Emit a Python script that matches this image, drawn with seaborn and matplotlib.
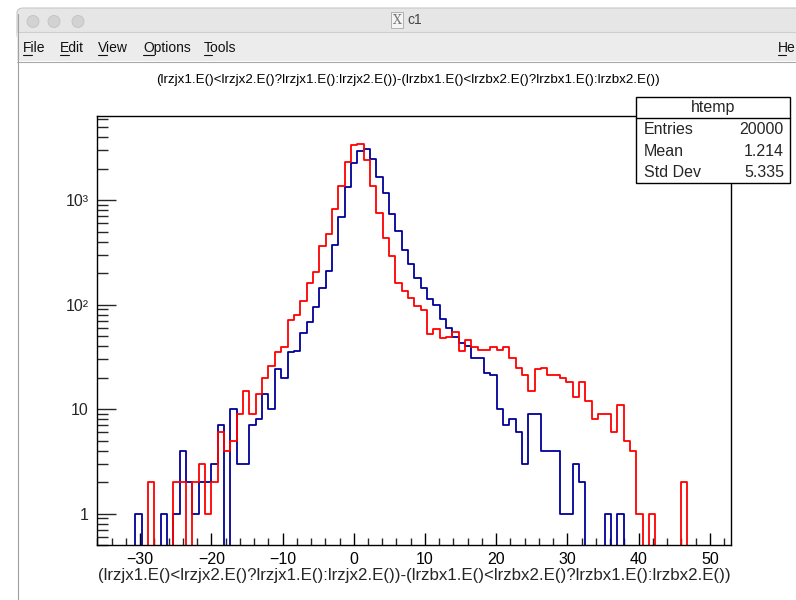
import numpy as np
import pandas as pd
import matplotlib
matplotlib.use("Agg")
import matplotlib.pyplot as plt
import seaborn as sns
from matplotlib.patches import Rectangle, Ellipse, FancyBboxPatch
from matplotlib.lines import Line2D
from matplotlib.ticker import LogLocator, NullFormatter, FixedLocator, MultipleLocator

# ---------------- data ----------------
x_min, x_max, n_bins = -36.0, 53.0, 100

# counts per bin (bin 0 .. 99)
blue_counts = [0, 0, 0, 0, 0, 0, 1, 0, 0, 0,
               1, 0, 1, 4, 2, 1, 2, 2, 3, 7,
               0, 10, 3, 3, 7, 8, 14, 10, 24, 20,
               35, 36, 53, 68, 94, 144, 209, 374, 693, 1327,
               2250, 2970, 3105, 2494, 1675, 1162, 736, 506, 330, 244,
               181, 145, 112, 99, 73, 60, 49, 43, 40, 31,
               31, 22, 21, 10, 7, 8, 6, 3, 9, 9,
               4, 4, 4, 1, 1, 3, 2, 0, 0, 0,
               1, 0, 1, 0, 0, 0, 0, 0, 0, 0,
               0, 0, 0, 0, 0, 0, 0, 0, 0, 0]

red_counts = [0, 0, 0, 0, 0, 0, 0, 0, 2, 0,
              0, 0, 2, 2, 0, 2, 3, 1, 2, 6,
              4, 5, 9, 15, 9, 14, 20, 26, 35, 39,
              71, 79, 109, 160, 205, 363, 476, 827, 1365, 2318,
              3350, 3445, 2421, 1365, 757, 434, 292, 160, 134, 115,
              97, 88, 52, 59, 48, 49, 55, 36, 46, 39,
              37, 37, 39, 37, 39, 31, 25, 21, 15, 24,
              25, 21, 21, 20, 18, 13, 18, 12, 8, 9,
              9, 6, 11, 5, 4, 1, 0, 1, 0, 0,
              0, 0, 2, 0, 0, 0, 0, 0, 0, 0]

x_ticks = [-30, -20, -10, 0, 10, 20, 30, 40, 50]
y_ticks = [1, 10, 100, 1000]
y_tick_labels = ["1", "10", "10\u00b2", "10\u00b3"]

title_text = "(lrzjx1.E()<lrzjx2.E()?lrzjx1.E():lrzjx2.E())-(lrzbx1.E()<lrzbx2.E()?lrzbx1.E():lrzbx2.E())"
stats_name = "htemp"
stats_rows = [("Entries", "20000"), ("Mean", "1.214"), ("Std Dev", "5.335")]
menu_items = ["File", "Edit", "View", "Options", "Tools"]
window_title = "c1"

# ---------------- build ----------------
edges = np.linspace(x_min, x_max, n_bins + 1)
centers = 0.5 * (edges[:-1] + edges[1:])
df = pd.DataFrame({"x": centers, "blue": blue_counts, "red": red_counts})

sns.set_theme(style="white")
plt.rcParams["font.family"] = ["Liberation Sans", "DejaVu Sans"]

W, H = 796, 600
fig = plt.figure(figsize=(W / 100, H / 100), dpi=100)
fig.patch.set_facecolor("white")

def fx(px):
    return px / W

def fy(py):
    return 1 - py / H

# ---- window chrome ----
fig.patches.append(FancyBboxPatch((fx(17), fy(40)), fx(796 - 17 + 10), 32 / H,
                                  boxstyle="round,pad=0,rounding_size=0.008",
                                  transform=fig.transFigure, facecolor="#e6e6e6",
                                  edgecolor="#c8c8c8", lw=0.8, zorder=0))
fig.patches.append(Rectangle((fx(17), fy(61)), fx(796 - 17), 29 / H,
                             transform=fig.transFigure, facecolor="#ececec",
                             edgecolor="none", zorder=0.5))
fig.patches.append(Rectangle((fx(17.5), 0), fx(796 - 17), (600 - 61.5) / H,
                             transform=fig.transFigure, facecolor="white",
                             edgecolor="none", zorder=0.5))
fig.lines.append(Line2D([fx(17), 1], [fy(32), fy(32)], transform=fig.transFigure,
                        color="#cfcfcf", lw=0.8))
fig.lines.append(Line2D([fx(17), 1], [fy(61.5), fy(61.5)], transform=fig.transFigure,
                        color="#a8a8a8", lw=0.8))
fig.lines.append(Line2D([fx(17.5), fx(17.5)], [fy(14), 0], transform=fig.transFigure,
                        color="#a0a0a0", lw=0.8))
for cx in (33, 54, 78):
    fig.patches.append(Ellipse((fx(cx), fy(21.5)), 12 / W, 12 / H,
                               transform=fig.transFigure, facecolor="#d2d2d2",
                               edgecolor="#c2c2c2", lw=0.6, zorder=2))
fig.text(fx(397), fy(20), "X", ha="center", va="center", fontsize=9,
         color="#777777", family=["DejaVu Serif"],
         bbox=dict(boxstyle="square,pad=0.1", fc="#f4f4f4", ec="#999999", lw=0.5))
fig.text(fx(407), fy(20), window_title, ha="left", va="center", fontsize=10, color="#444444")

menu_x = [23, 60, 98, 143, 204]
fig.canvas.draw()
renderer = fig.canvas.get_renderer()
for mx, item in zip(menu_x, menu_items):
    fig.text(fx(mx), fy(48), item, ha="left", va="center", fontsize=10, color="#111111")
    probe = fig.text(fx(mx), fy(48), item[0], ha="left", va="center", fontsize=10)
    bb = probe.get_window_extent(renderer)
    probe.remove()
    fig.lines.append(Line2D([bb.x0 / W, bb.x1 / W], [fy(55), fy(55)],
                            transform=fig.transFigure, color="#111111", lw=0.8))
fig.text(fx(778), fy(48), "He", ha="left", va="center", fontsize=10, color="#111111")
fig.lines.append(Line2D([fx(778), fx(786)], [fy(55), fy(55)],
                        transform=fig.transFigure, color="#111111", lw=0.8))

# ---- plot ----
ax = fig.add_axes([fx(97.3), fy(545), fx(731.3 - 97.3), (545 - 115.7) / H])
ax.set_facecolor("white")
ax.set_zorder(3)

sns.histplot(data=df, x="x", weights="blue", bins=n_bins, binrange=(x_min, x_max),
             element="step", fill=False, color="#000099", linewidth=1.3, ax=ax)
sns.histplot(data=df, x="x", weights="red", bins=n_bins, binrange=(x_min, x_max),
             element="step", fill=False, color="#ff0000", linewidth=1.3, ax=ax)

ax.set_yscale("log")
ax.set_xlim(x_min, x_max)
ax.set_ylim(0.5, 6430)

for s in ax.spines.values():
    s.set_visible(True)
    s.set_color("black")
    s.set_linewidth(1.0)

ax.xaxis.set_major_locator(FixedLocator(x_ticks))
ax.xaxis.set_minor_locator(MultipleLocator(2))
ax.set_xticklabels([str(t).replace("-", "\u2212") for t in x_ticks])
ax.yaxis.set_major_locator(FixedLocator(y_ticks))
ax.set_yticklabels(y_tick_labels)
ax.yaxis.set_minor_locator(LogLocator(base=10, subs=np.arange(2, 10)))
ax.yaxis.set_minor_formatter(NullFormatter())

ax.tick_params(axis="x", which="major", direction="in", length=9, width=1.0,
               labelsize=11.5, pad=5, bottom=True, top=False, colors="black")
ax.tick_params(axis="x", which="minor", direction="in", length=5, width=1.0,
               bottom=True, top=False)
ax.tick_params(axis="y", which="major", direction="in", length=14, width=1.0,
               labelsize=11.5, pad=6, left=True, right=False)
ax.tick_params(axis="y", which="minor", direction="in", length=8, width=1.0,
               left=True, right=False)

ax.set_ylabel("")
ax.set_xlabel(title_text, fontsize=12.2, labelpad=1)

# title
fig.text(fx(408), fy(80), title_text, ha="center", va="center", fontsize=9.6, color="black")

# stats box
bx0, bx1, by0, by1 = 636, 790, 97, 183
fig.patches.append(Rectangle((fx(bx0), fy(by1)), fx(bx1 - bx0), (by1 - by0) / H,
                             transform=fig.transFigure, facecolor="white",
                             edgecolor="black", lw=1.0, zorder=5))
fig.lines.append(Line2D([fx(bx0), fx(bx1)], [fy(118), fy(118)], transform=fig.transFigure,
                        color="black", lw=1.0, zorder=6))
fig.text(fx((bx0 + bx1) / 2), fy(107.5), stats_name, ha="center", va="center",
         fontsize=11.5, zorder=7)
for i, (lab, val) in enumerate(stats_rows):
    yy = fy(129.5 + 21.5 * i)
    fig.text(fx(644), yy, lab, ha="left", va="center", fontsize=11.5, zorder=7)
    fig.text(fx(784), yy, val, ha="right", va="center", fontsize=11.5, zorder=7)

fig.savefig("out.png", dpi=100)
